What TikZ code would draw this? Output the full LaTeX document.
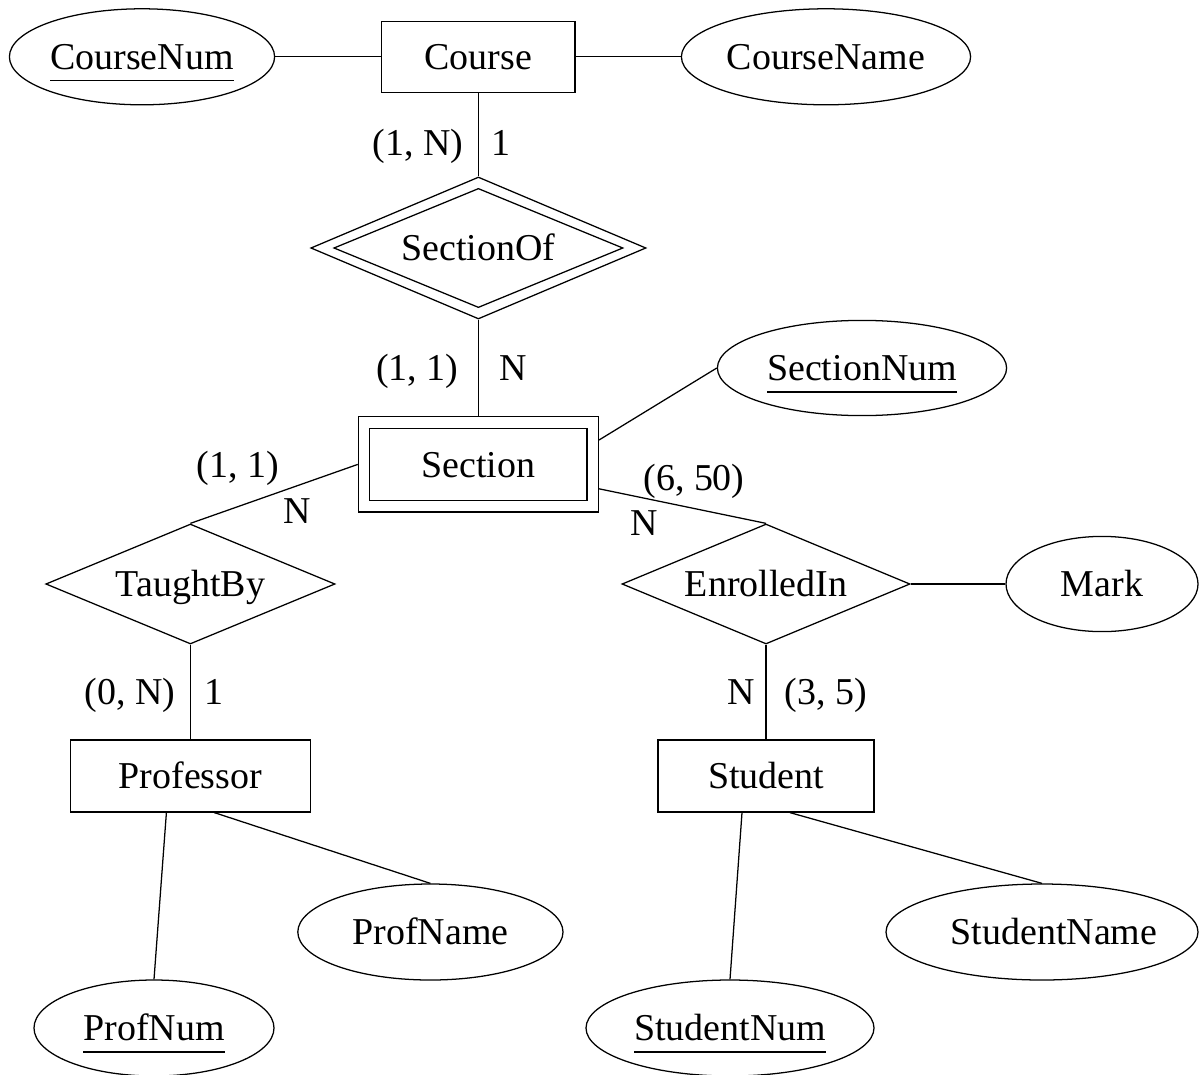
\documentclass[tikz,border=0pt]{standalone}
\usepackage{fontspec}
\setmainfont{Liberation Serif}
\usepackage{tikz}
\usetikzlibrary{shapes.geometric}

% key attributes are underlined
\newcommand{\keyattr}[1]{\setbox0\hbox{#1}\rlap{\smash{\rule[-0.31em]{\wd0}{0.035em}}}\box0}

\tikzset{
    entity/.style    = {draw, rectangle, inner sep=0pt, minimum height=1.80cm,
                        text height=18.4pt, text depth=0pt},
    weakouter/.style = {draw, rectangle, inner sep=0pt, minimum width=6.00cm, minimum height=2.38cm},
    relship/.style   = {draw, diamond, aspect=2.4, inner sep=0pt, minimum width=7.23cm,
                        minimum height=3.00cm, text height=18.4pt, text depth=0pt},
    attrib/.style    = {draw, ellipse, inner sep=0pt, minimum height=2.40cm,
                        text height=18.4pt, text depth=0pt},
    card/.style      = {inner sep=0pt, text height=18.9pt, text depth=5.4pt},
}

\begin{document}
\begin{tikzpicture}[line width=0.9pt, font=\fontsize{27pt}{32pt}\selectfont]
            \useasboundingbox (0.00, 0.00) rectangle (29.975, -26.85);
            % Entities
            \node[entity, minimum width=4.83cm, minimum height=1.78cm] (course)    at (11.96,  -1.42) {Course};
            \node[entity, minimum width=6.00cm]                        (professor) at ( 4.76, -19.40) {Professor};
            \node[entity, minimum width=5.40cm]                        (student)   at (19.15, -19.40) {Student};
            % Weak entity
            \node[weakouter]                                           (section)   at (11.96, -11.61) {};
            \node[entity, minimum width=5.43cm]                        (sectionin) at (section.center) {Section};
            % Relationships
            \node[relship]                                             (taughtby)   at ( 4.76, -14.60) {TaughtBy};
            \node[relship, minimum width=7.20cm]                       (enrolledin) at (19.15, -14.60) {EnrolledIn};
            % Identifying relationship
            \node[relship, minimum width=8.38cm, minimum height=3.55cm] (sectionof)   at (11.96, -6.20) {};
            \node[relship, minimum height=2.98cm]                       (sectionofin) at (sectionof.center) {SectionOf};
            % Attributes
            \node[attrib, minimum width=6.63cm]                        (coursenum)   at ( 3.55,  -1.42) {\keyattr{CourseNum}};
            \node[attrib, minimum width=7.23cm]                        (coursename)  at (20.65,  -1.42) {CourseName};
            \node[attrib, minimum width=7.23cm, minimum height=2.38cm] (sectionnum)  at (21.55,  -9.20) {\keyattr{SectionNum}};
            \node[attrib, minimum width=4.80cm, minimum height=2.38cm] (mark)        at (27.55, -14.60) {Mark};
            \node[attrib, minimum width=6.63cm]                        (profname)    at (10.76, -23.30) {ProfName};
            \node[attrib, minimum width=6.00cm]                        (profnum)     at ( 3.85, -25.70) {\keyattr{ProfNum}};
            \node[attrib, minimum width=7.80cm]                        (studentname) at (26.05, -23.30) {\makebox[0pt]{\hspace*{0.6cm}StudentName}};
            \node[attrib, minimum width=7.20cm]                        (studentnum)  at (18.25, -25.70) {\keyattr{StudentNum}};
            % Links
            \draw (coursenum) -- (course);
            \draw (course) -- (coursename);
            \draw (course) -- (sectionof);
            \draw (sectionof) -- (section);
            \draw (section.west) -- (taughtby.north);
            \draw ([yshift= 0.61cm]section.east) -- (sectionnum.west);
            \draw ([yshift=-0.61cm]section.east) -- (enrolledin.north);
            \draw (enrolledin) -- (mark);
            \draw (taughtby) -- (professor);
            \draw (enrolledin) -- (student);
            \draw ([xshift=-0.60cm]professor.south) -- (profnum.north);
            \draw ([xshift= 0.60cm]professor.south) -- (profname.north);
            \draw ([xshift=-0.60cm]student.south)   -- (studentnum.north);
            \draw ([xshift= 0.60cm]student.south)   -- (studentname.north);
            % Cardinalities
            \node[card] (sof-min)  at (10.45,  -3.65) {(1, N)};
            \node[card] (sof-one)  at (12.53,  -3.65) {1};
            \node[card] (sec-min)  at (10.43,  -9.28) {(1, 1)};
            \node[card] (sec-many) at (12.83,  -9.28) {N};
            \node[card] (tb-min)   at ( 5.95, -11.70) {(1, 1)};
            \node[card] (tb-many)  at ( 7.43, -12.85) {N};
            \node[card] (en-min)   at (17.35, -12.02) {(6, 50)};
            \node[card] (en-many)  at (16.10, -13.15) {N};
            \node[card] (pr-min)   at ( 3.25, -17.38) {(0, N)};
            \node[card] (pr-one)   at ( 5.35, -17.38) {1};
            \node[card] (st-many)  at (18.53, -17.38) {N};
            \node[card] (st-min)   at (20.65, -17.38) {(3, 5)};
        \end{tikzpicture}
\end{document}
